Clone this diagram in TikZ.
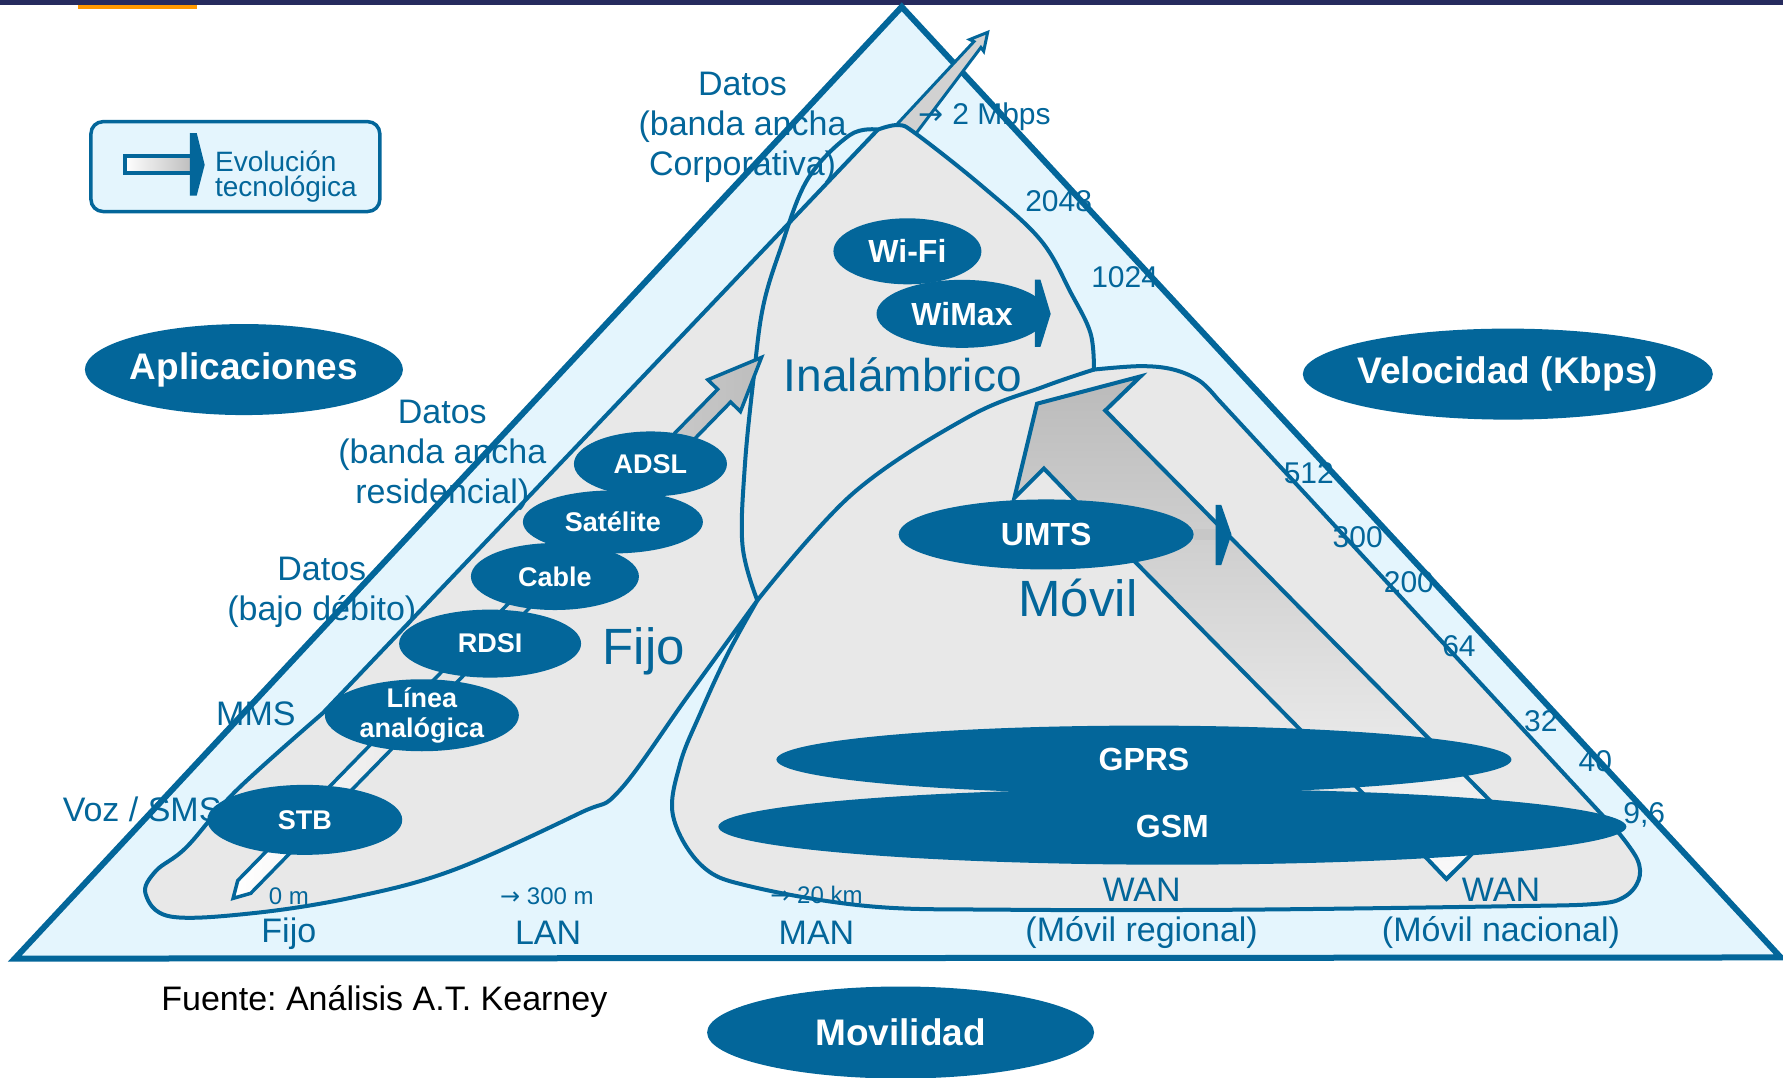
\documentclass[tikz,border=0pt]{standalone}
\usepackage{fontspec}
\setmainfont{Liberation Sans}
\newfontfamily\arrowfont{DejaVu Sans}
\usetikzlibrary{shapes.geometric}
\frenchspacing

\definecolor{blueline}{HTML}{03669A}
\definecolor{paleblue}{HTML}{E4F5FD}
\definecolor{zonegray}{HTML}{E8E8E8}
\definecolor{headgray}{HTML}{BDBDBD}
\definecolor{navybar}{HTML}{262B5E}
\definecolor{orangebar}{HTML}{FF9900}

\newcommand{\pxfont}[2]{\fontsize{#1}{#2}\selectfont}
\newcommand{\toarrow}{{\arrowfont\char"2192}}

\tikzset{
  zone/.style={fill=zonegray, draw=blueline, line width=4pt, line join=round},
  zoneline/.style={draw=blueline, line width=4pt, line cap=round},
  evol/.style={draw=blueline, line width=3.5pt, line join=miter},
  tech/.style={ellipse, fill=blueline, text=white, inner sep=-12pt, align=center,
    font=\bfseries\pxfont{27}{30}},
  wtech/.style={tech, font=\bfseries\pxfont{32}{34}},
  axisname/.style={tech, font=\bfseries\pxfont{37}{40}},
  lbl/.style={text=blueline, inner sep=0pt, align=center, font=\pxfont{34}{40}},
  speed/.style={text=blueline, inner sep=0pt, font=\pxfont{30}{32}},
  dist/.style={text=blueline, inner sep=0pt, font=\pxfont{24}{26}},
  zonename/.style={text=blueline, inner sep=0pt, font=\pxfont{51}{52}},
  minihead/.style={fill=blueline}
}

\begin{document}
\begin{tikzpicture}[x=1.1371pt, y=-1.1371pt]
\useasboundingbox (0,0) rectangle (1568,948);

% slide rule at the top
\fill[navybar] (0,0) rectangle (1568,4);
\fill[orangebar] (69,4) rectangle (173,8);

% legend
\draw[line width=3.5pt, draw=blueline, fill=paleblue, rounded corners=12pt] (80,107) rectangle (334,186);
\draw[line width=4pt, draw=blueline, left color=white, right color=headgray] (110,137) rectangle (169,152);
\fill[minihead] (167,117) -- (173,117) -- (180,145) -- (173,172) -- (167,172) -- cycle;
\node[anchor=west, text=blueline, align=left, inner sep=0pt, font=\pxfont{28}{25}] (legtext) at (189,155) {Evolución\\tecnológica};

% axis names
\node[axisname, minimum width=318pt, minimum height=91pt] (aplic) at (214.5,325) {Aplicaciones};
\node[axisname, minimum width=410pt, minimum height=91pt] (veloc) at (1326,329) {Velocidad (Kbps)};
\node[axisname, minimum width=387pt, minimum height=92pt] (movilid) at (792,908) {Movilidad};

% triangle
\filldraw[fill=paleblue, draw=blueline, line width=6pt, line join=miter] (793,6) -- (13,843) -- (1566,842) -- cycle;

% thin arrow to 2 Mbps
\begin{scope}[shift={(785,128)}, rotate=50]
  \filldraw[evol, line width=3pt, fill=black!18] (0,-10) -- (116,-4) -- (115,-8) -- (130,0) -- (115,8) -- (116,4) -- (0,10) -- cycle;
\end{scope}

% Fijo + Inalambrico + Movil zones
\path[zone] (772,114)
  -- plot[smooth, tension=0.6] coordinates {(772,114) (790,110) (806,118) (864,164) (915,211) (942,258) (959,293) (962,325)}
  -- plot[smooth, tension=0.6] coordinates {(962,325) (1003,322) (1032,325) (1055,335) (1070,350)}
  -- (1424,733)
  -- plot[smooth, tension=0.6] coordinates {(1424,733) (1440,756) (1441,774) (1428,789) (1402,795) (1323,797) (1090,800) (884,800) (765,797) (662,780) (618,762) (592,718) (598,672) (616,627) (640,575) (666,528)}
  -- plot[smooth, tension=0.6] coordinates {(666,528) (605,612) (545,695) (510,715) (399,765) (311,789) (223,803) (150,806) (128,786) (137,766) (164,745) (208,695) (284,627)}
  -- cycle;
\draw[zoneline] plot[smooth, tension=0.6] coordinates {(772,114) (747,119) (710,158) (686,220) (671,270) (663,330) (655,410) (653,480) (666,528)};
\draw[zoneline] plot[smooth, tension=0.6] coordinates {(666,528) (750,434) (851,367) (918,340) (962,325)};

% Fijo evolution arrow
\begin{scope}[shift={(205,790)}, rotate=45.67]
  \filldraw[evol, left color=white, right color=headgray] (0,0) -- (14,-8) -- (618,-8) -- (618,-20) -- (665,0) -- (618,20) -- (618,8) -- (14,8) -- cycle;
\end{scope}

% Movil evolution arrow
\filldraw[draw=blueline, line width=4pt, line join=miter, top color=black!27, bottom color=black!2]
  (912,355) -- (1003,331) -- (972,361) -- (1326,720) -- (1272,773) -- (1253,753) -- (945,440) -- (918,412) -- (892,438) -- cycle;

% technologies
\node[wtech, minimum width=148pt, minimum height=66pt] (wifi) at (798,221) {Wi-Fi};
\node[wtech, minimum width=171pt, minimum height=68pt] (wimax) at (846,276) {WiMax};
\node[tech, minimum width=153pt, minimum height=65pt] (adsl) at (572,408) {ADSL};
\node[tech, minimum width=180pt, minimum height=63pt] (satel) at (539,459) {Satélite};
\node[tech, minimum width=168pt, minimum height=67pt] (cable) at (488,507) {Cable};
\node[tech, minimum width=182pt, minimum height=68pt] (rdsi) at (431,566) {RDSI};
\node[tech, minimum width=194pt, minimum height=72pt] (linea) at (371,629) {Línea\\analógica};
\node[tech, minimum width=195pt, minimum height=70pt] (stb) at (268,721) {STB};
\node[wtech, minimum width=295pt, minimum height=70pt] (umts) at (920,470) {UMTS};
\node[wtech, minimum width=735pt, minimum height=68pt] (gprs) at (1006,668) {GPRS};
\node[wtech, minimum width=908pt, minimum height=76pt] (gsm) at (1031,727) {GSM};

% small evolution heads
\fill[minihead] (910,246) -- (915,246) -- (924,276) -- (915,305) -- (910,305) -- cycle;
\fill[black!22] (1050,465) rectangle (1070,475);
\fill[minihead] (1069,444) -- (1074,444) -- (1083,470) -- (1074,497) -- (1069,497) -- cycle;

% labels
\node[lbl] (corp) at (653,112) {Datos\\(banda ancha\\Corporativa)};
\node[lbl] (resid) at (389,400) {Datos\\(banda ancha\\residencial)};
\node[lbl] (bajo) at (283,521) {Datos\\(bajo débito)};
\node[lbl] (mms) at (225,628) {MMS};
\node[lbl] (voz) at (125,712) {Voz / SMS};
\node[speed] (mbps) at (866,103) {\toarrow\ 2 Mbps};
\node[speed] (s2048) at (931,177) {2048};
\node[speed] (s1024) at (989,244) {1024};
\node[speed] (s512) at (1151,416) {512};
\node[speed] (s300) at (1194,472) {300};
\node[speed] (s200) at (1239,512) {200};
\node[speed] (s64) at (1283,568) {64};
\node[speed] (s32) at (1355,634) {32};
\node[speed] (s40) at (1403,669) {40};
\node[speed] (s96) at (1446,717) {9,6};
\node[zonename, font=\pxfont{46}{48}] (inal) at (794,330) {Inalámbrico};
\node[zonename] (fijo) at (566,573) {Fijo};
\node[zonename] (movil) at (948,526) {Móvil};
\node[dist] (d0) at (254,788) {0 m};
\node[dist] (d300) at (481,788) {\toarrow\ 300 m};
\node[dist] (d20) at (718,787) {\toarrow\ 20 km};
\node[lbl] (rfijo) at (254,821) {Fijo};
\node[lbl] (rlan) at (482,820) {LAN};
\node[lbl] (rman) at (718,820) {MAN};
\node[lbl] (rwanr) at (1004,803) {WAN\\(Móvil regional)};
\node[lbl] (rwann) at (1320,803) {WAN\\(Móvil nacional)};
\node[text=black, inner sep=0pt, font=\pxfont{34}{36}] (fuente) at (338,881) {Fuente: Análisis A.T. Kearney};
\end{tikzpicture}
\end{document}
